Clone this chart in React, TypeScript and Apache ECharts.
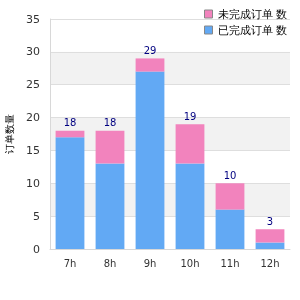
import React, { useEffect, useRef } from "react";
import * as echarts from "echarts";

const categories = ["7h", "8h", "9h", "10h", "11h", "12h"];
const doneValues = [17, 13, 27, 13, 6, 1];
const pendingValues = [1, 5, 2, 6, 4, 2];
const totals = [18, 18, 29, 19, 10, 3];
const seriesNames = ["已完成订单 数", "未完成订单 数"];
const yAxisName = "订单数量";

export default function App() {
  const ref = useRef<HTMLDivElement>(null);
  useEffect(() => {
    if (!ref.current) return;
    const chart = echarts.init(ref.current, null, { renderer: "svg" });
    chart.setOption({
      animation: false,
      textStyle: { fontFamily: "DejaVu Sans" },
      legend: {
        data: [seriesNames[1], seriesNames[0]],
        orient: "vertical",
        right: 8,
        top: 2,
        itemWidth: 8,
        itemHeight: 8,
        itemGap: 2,
        icon: "rect",
        itemStyle: { borderColor: "#888", borderWidth: 1 },
        textStyle: { fontSize: 11, color: "#000", lineHeight: 14 },
      },
      grid: {
        left: 50,
        right: 10,
        top: 19,
        bottom: 51,
        containLabel: false,
        outerBoundsMode: "none",
      },
      xAxis: {
        type: "category",
        data: categories,
        axisLine: { lineStyle: { color: "#d8d8d8" } },
        axisTick: { show: false },
        axisLabel: { color: "#333", fontSize: 10, margin: 9 },
      },
      yAxis: {
        type: "value",
        min: 0,
        max: 35,
        interval: 5,
        name: yAxisName,
        nameLocation: "middle",
        nameGap: 36,
        nameRotate: 90,
        nameTextStyle: { fontSize: 10, color: "#000" },
        axisLine: { show: true, lineStyle: { color: "#d8d8d8" } },
        axisTick: { show: false },
        axisLabel: { color: "#333", fontSize: 11, margin: 10 },
        splitLine: { lineStyle: { color: "#dedede" } },
        splitArea: { show: true, areaStyle: { color: ["#ffffff", "#f2f2f2"] } },
      },
      series: [
        {
          name: seriesNames[0],
          type: "bar",
          stack: "a",
          data: doneValues,
          barWidth: "72%",
          itemStyle: { color: "#62a9f4" },
        },
        {
          name: seriesNames[1],
          type: "bar",
          stack: "a",
          data: pendingValues,
          barWidth: "72%",
          itemStyle: { color: "#f283bd" },
          label: {
            show: true,
            position: "top",
            distance: 3,
            color: "#000080",
            fontSize: 10,
            formatter: (p: any) => String(totals[p.dataIndex]),
          },
        },
      ],
    });
    return () => chart.dispose();
  }, []);
  return (
    <div
      ref={ref}
      style={{ position: "fixed", left: 0, top: 0, width: 300, height: 300 }}
    />
  );
}
